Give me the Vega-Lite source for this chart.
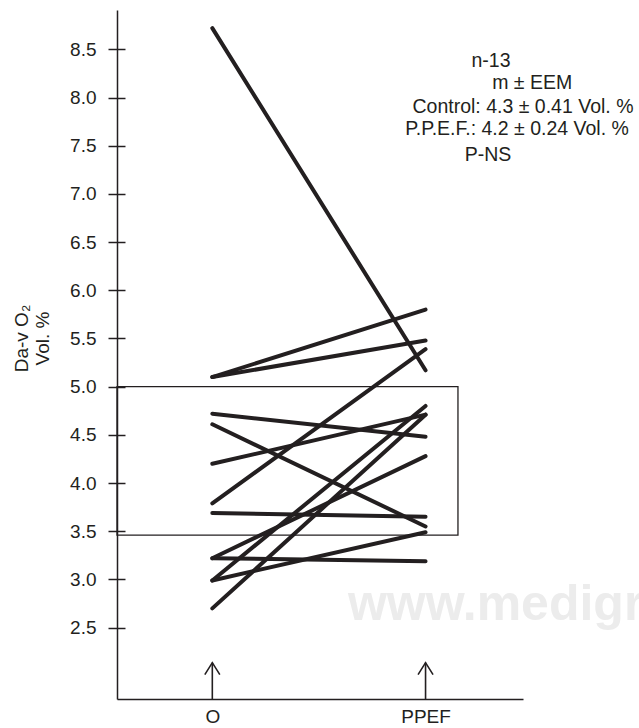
{
  "$schema": "https://vega.github.io/schema/vega-lite/v6.json",
  "width": 406,
  "height": 689,
  "autosize": {"type": "none"},
  "padding": {"left": 117, "top": 10, "right": 116, "bottom": 29},
  "background": "white",
  "config": {"view": {"stroke": null}, "font": "Liberation Sans", "axis": {"grid": false}},
  "datasets": {
    "pairs": [
      {"subject": 1, "x": 0, "y": 8.72}, {"subject": 1, "x": 1, "y": 5.17},
      {"subject": 2, "x": 0, "y": 5.10}, {"subject": 2, "x": 1, "y": 5.80},
      {"subject": 3, "x": 0, "y": 5.10}, {"subject": 3, "x": 1, "y": 5.48},
      {"subject": 4, "x": 0, "y": 4.72}, {"subject": 4, "x": 1, "y": 4.48},
      {"subject": 5, "x": 0, "y": 4.61}, {"subject": 5, "x": 1, "y": 3.55},
      {"subject": 6, "x": 0, "y": 4.20}, {"subject": 6, "x": 1, "y": 4.71},
      {"subject": 7, "x": 0, "y": 3.79}, {"subject": 7, "x": 1, "y": 5.39},
      {"subject": 8, "x": 0, "y": 3.69}, {"subject": 8, "x": 1, "y": 3.65},
      {"subject": 9, "x": 0, "y": 3.22}, {"subject": 9, "x": 1, "y": 3.19},
      {"subject": 10, "x": 0, "y": 3.22}, {"subject": 10, "x": 1, "y": 4.28},
      {"subject": 11, "x": 0, "y": 2.99}, {"subject": 11, "x": 1, "y": 3.49},
      {"subject": 12, "x": 0, "y": 2.99}, {"subject": 12, "x": 1, "y": 4.80},
      {"subject": 13, "x": 0, "y": 2.70}, {"subject": 13, "x": 1, "y": 4.71}
    ],
    "box": [{"x": -0.447, "x2": 1.152, "y": 5.0, "y2": 3.46}],
    "arrows": [{"x": 0, "y": 1.76, "y2": 2.137}, {"x": 1, "y": 1.76, "y2": 2.137}],
    "heads": [{"x": 0, "y": 2.137}, {"x": 1, "y": 2.137}],
    "notes": [
      {"x": 1.307, "y": 8.32, "label": "n-13"},
      {"x": 1.500, "y": 8.085, "label": "m ± EEM"},
      {"x": 1.457, "y": 7.836, "label": "Control: 4.3 ± 0.41 Vol. %"},
      {"x": 1.429, "y": 7.611, "label": "P.P.E.F.: 4.2 ± 0.24 Vol. %"},
      {"x": 1.293, "y": 7.344, "label": "P-NS"}
    ],
    "watermark": [{"x": 0.636, "y": 2.58, "label": "www.medigraphic.com"}]
  },
  "encoding": {
    "x": {
      "field": "x", "type": "quantitative",
      "scale": {"domain": [-0.447, 1.457], "nice": false, "zero": false},
      "axis": {
        "orient": "bottom", "values": [0, 1],
        "labelExpr": "datum.value == 0 ? 'O' : 'PPEF'",
        "ticks": false, "tickSize": 0, "labelPadding": 8,
        "labelFontSize": 19, "labelColor": "#231f20",
        "domainColor": "#231f20", "domainWidth": 1.5,
        "title": null, "grid": false, "labelFlush": false
      }
    }
  },
  "resolve": {"scale": {"x": "shared", "y": "shared"}, "axis": {"y": "independent"}},
  "layer": [
    {
      "data": {"name": "watermark"},
      "mark": {"type": "text", "align": "left", "baseline": "alphabetic", "fontSize": 50, "fontWeight": "bold", "color": "#ececec"},
      "encoding": {
        "y": {"field": "y", "type": "quantitative", "scale": {"domain": [1.76, 8.908], "nice": false, "zero": false}, "axis": null},
        "text": {"field": "label"}
      }
    },
    {
      "data": {"name": "pairs"},
      "mark": {"type": "line", "color": "#231f20", "strokeWidth": 4, "strokeCap": "round"},
      "encoding": {
        "y": {
          "field": "y", "type": "quantitative",
          "scale": {"domain": [1.76, 8.908], "nice": false, "zero": false},
          "axis": {
            "orient": "left", "offset": -8,
            "values": [2.5, 3.0, 3.5, 4.0, 4.5, 5.0, 5.5, 6.0, 6.5, 7.0, 7.5, 8.0, 8.5],
            "format": ".1f", "tickSize": 17, "tickWidth": 1.5, "tickColor": "#231f20",
            "labelPadding": 12, "labelFontSize": 19, "labelColor": "#231f20",
            "domain": false, "grid": false,
            "title": ["Da-v O₂", "Vol. %"], "titleFontSize": 19, "titleFontWeight": "normal",
            "titleColor": "#231f20", "titlePadding": 17, "titleY": 328, "titleLineHeight": 21
          }
        },
        "detail": {"field": "subject", "type": "nominal"}
      }
    },
    {
      "data": {"name": "box"},
      "mark": {"type": "rect", "fill": null, "fillOpacity": 0, "stroke": "#231f20", "strokeWidth": 1.3},
      "encoding": {
        "x2": {"field": "x2"},
        "y": {
          "field": "y", "type": "quantitative",
          "axis": {"orient": "left", "ticks": false, "labels": false, "domain": true, "domainColor": "#231f20", "domainWidth": 1.5, "title": null, "grid": false}
        },
        "y2": {"field": "y2"}
      }
    },
    {
      "data": {"name": "arrows"},
      "mark": {"type": "rule", "color": "#231f20", "strokeWidth": 1.6},
      "encoding": {
        "y": {"field": "y", "type": "quantitative", "axis": null},
        "y2": {"field": "y2"}
      }
    },
    {
      "data": {"name": "heads"},
      "mark": {"type": "point", "shape": "M-1,1.6L0,0L1,1.6", "filled": false, "size": 225, "stroke": "#231f20", "strokeWidth": 1.6, "opacity": 1},
      "encoding": {
        "y": {"field": "y", "type": "quantitative", "axis": null}
      }
    },
    {
      "data": {"name": "notes"},
      "mark": {"type": "text", "align": "center", "baseline": "alphabetic", "fontSize": 19.5, "color": "#231f20"},
      "encoding": {
        "y": {"field": "y", "type": "quantitative", "axis": null},
        "text": {"field": "label"}
      }
    }
  ]
}
